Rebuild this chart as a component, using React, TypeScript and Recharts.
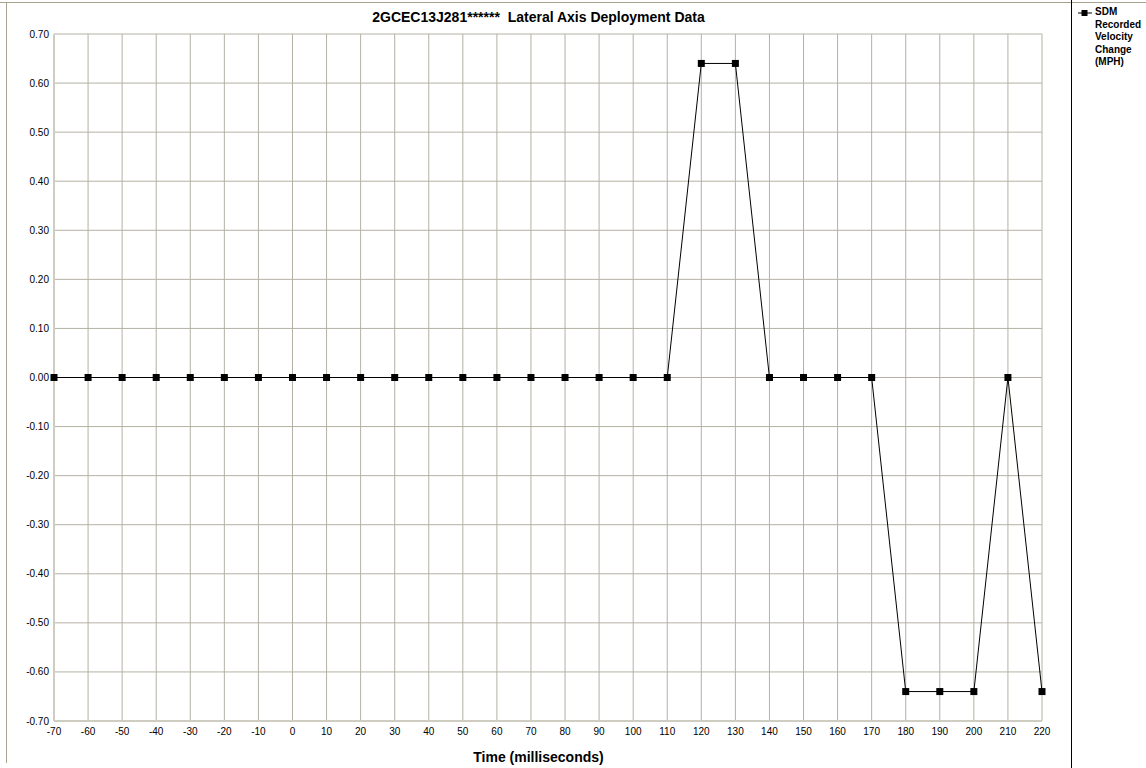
import React from 'react';
import { LineChart, Line, XAxis, YAxis, CartesianGrid } from 'recharts';

const times = [-70, -60, -50, -40, -30, -20, -10, 0, 10, 20, 30, 40, 50, 60, 70, 80, 90, 100, 110, 120, 130, 140, 150, 160, 170, 180, 190, 200, 210, 220];
const velocityChange = [0, 0, 0, 0, 0, 0, 0, 0, 0, 0, 0, 0, 0, 0, 0, 0, 0, 0, 0, 0.64, 0.64, 0, 0, 0, 0, -0.64, -0.64, -0.64, 0, -0.64];
const yTicks = [-0.7, -0.6, -0.5, -0.4, -0.3, -0.2, -0.1, 0, 0.1, 0.2, 0.3, 0.4, 0.5, 0.6, 0.7];

const data = times.map((t, i) => ({ t, v: velocityChange[i] }));

const font = '"Liberation Sans", Arial, sans-serif';
const grid = '#b4b1a4';

const SquareDot = (props: any) => {
  const { cx, cy } = props;
  if (cx == null || cy == null) return null;
  return <rect x={cx - 3.5} y={cy - 3.5} width={7} height={7} fill="#000" />;
};

export default function App() {
  return (
    <div style={{ position: 'absolute', left: 0, top: 0, width: 1146, height: 768, background: '#fff', fontFamily: font }}>
      {/* frame */}
      <div style={{ position: 'absolute', left: 0, top: 2, width: 1146, height: 1, background: '#a8a290' }} />
      <div style={{ position: 'absolute', left: 6, top: 2, width: 1, height: 761, background: '#a8a290' }} />
      <div style={{ position: 'absolute', left: 1071, top: 0, width: 1, height: 768, background: '#000' }} />

      <div style={{ position: 'absolute', left: 6, width: 1065, top: 9, textAlign: 'center', fontSize: 14, lineHeight: '16px', fontWeight: 'bold' }}>
        2GCEC13J281******&nbsp; Lateral Axis Deployment Data
      </div>
      <div style={{ position: 'absolute', left: 6, width: 1065, top: 749, textAlign: 'center', fontSize: 14, lineHeight: '16px', fontWeight: 'bold' }}>
        Time (milliseconds)
      </div>

      {/* legend */}
      <svg style={{ position: 'absolute', left: 1077, top: 8 }} width={16} height={10}>
        <line x1={1} y1={5} x2={15} y2={5} stroke="#000" strokeWidth={1} />
        <rect x={4.5} y={2} width={6} height={6} fill="#000" />
      </svg>
      <div style={{ position: 'absolute', left: 1095, top: 6, fontSize: 10, fontWeight: 'bold', lineHeight: '12.5px' }}>
        SDM<br />Recorded<br />Velocity<br />Change<br />(MPH)
      </div>

      <div style={{ position: 'absolute', left: 0, top: 0 }}>
        <LineChart width={1146} height={768} data={data} margin={{ top: 34, right: 104, bottom: 0, left: 0 }}>
          <CartesianGrid stroke={grid} strokeWidth={1} />
          <XAxis
            dataKey="t"
            type="number"
            domain={[-70, 220]}
            ticks={times}
            interval={0}
            height={47}
            tickLine={false}
            tickSize={5}
            axisLine={{ stroke: '#cfcdc2', strokeWidth: 2 }}
            tick={{ fill: '#000', fontSize: 10, fontFamily: font }}
          />
          <YAxis
            type="number"
            domain={[-0.7, 0.7]}
            ticks={yTicks}
            interval={0}
            width={54}
            tickLine={false}
            tickSize={3}
            axisLine={{ stroke: '#cfcdc2', strokeWidth: 2 }}
            tickFormatter={(v: number) => v.toFixed(2)}
            tick={{ fill: '#000', fontSize: 10, fontFamily: font }}
          />
          <Line
            type="linear"
            dataKey="v"
            stroke="#000"
            strokeWidth={1}
            dot={<SquareDot />}
            activeDot={false}
            isAnimationActive={false}
          />
        </LineChart>
      </div>
    </div>
  );
}
